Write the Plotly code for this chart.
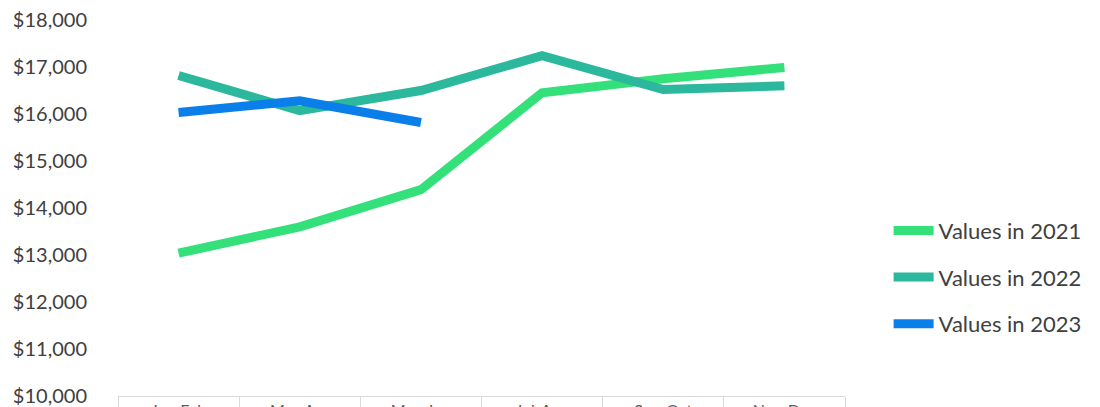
import plotly.graph_objects as go

categories = ["Jan-Feb", "Mar-Apr", "May-Jun", "Jul-Aug", "Sep-Oct", "Nov-Dec"]
values_2021 = [13040, 13600, 14390, 16450, 16750, 16990]
values_2022 = [16820, 16070, 16500, 17240, 16520, 16600]
values_2023 = [16030, 16280, 15820]
series_names = ["Values in 2021", "Values in 2022", "Values in 2023"]
tick_vals = [10000, 11000, 12000, 13000, 14000, 15000, 16000, 17000, 18000]
tick_text = ["$10,000", "$11,000", "$12,000", "$13,000", "$14,000", "$15,000", "$16,000", "$17,000", "$18,000"]

colors = ["#33e07a", "#2bb89c", "#0b7fe9"]

fig = go.Figure()
for i, (name, vals) in enumerate(zip(series_names, [values_2021, values_2022, values_2023])):
    fig.add_trace(go.Scatter(
        x=categories[:len(vals)], y=vals, name=name, mode="lines",
        line=dict(color=colors[i], width=9), legendgroup=name,
    ))

fig.update_layout(
    width=1100, height=407,
    margin=dict(l=110, r=263, t=12, b=19),
    plot_bgcolor="white", paper_bgcolor="white",
    font=dict(family="Lato", size=20, color="#404040"),
    showlegend=True,
    legend=dict(x=1.06, y=0.316, xanchor="left", yanchor="middle",
                traceorder="grouped", tracegroupgap=15,
                font=dict(size=22, color="#404040"), itemwidth=40),
    xaxis=dict(type="category", range=[-0.5, 5.5], showgrid=False, automargin=False,
               showline=True, linecolor="#d9d9d9", linewidth=1,
               ticks="outside", tickson="boundaries", ticklen=25, tickcolor="#d9d9d9",
               tickfont=dict(size=16, color="#595959")),
    yaxis=dict(range=[10000, 18000], tickvals=tick_vals, ticktext=tick_text,
               showgrid=False, zeroline=False, showline=False, automargin=False,
               ticklabelstandoff=30, ticklabeloverflow="allow"),
)

fig.write_html("out.html")
